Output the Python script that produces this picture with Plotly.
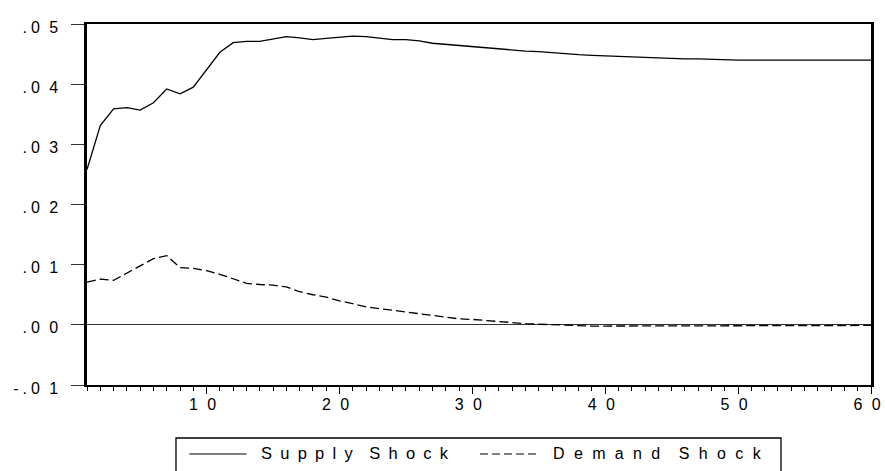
import plotly.graph_objects as go

# ---------------- data ----------------
periods = list(range(1, 61))

supply_shock = [
    0.0258, 0.0331, 0.0359, 0.0361, 0.0357, 0.0369, 0.0392, 0.0384, 0.0395, 0.0424,
    0.0453, 0.0469, 0.0471, 0.0471, 0.0475, 0.0479, 0.0477, 0.0474, 0.0476, 0.0478,
    0.0480, 0.0479, 0.0476, 0.0474, 0.0474, 0.0472, 0.0468, 0.0466, 0.0464, 0.0462,
    0.0461, 0.0458, 0.0456, 0.0455, 0.0454, 0.0452, 0.0451, 0.0449, 0.0448, 0.0447,
    0.0446, 0.0445, 0.0445, 0.0444, 0.0443, 0.0442, 0.0442, 0.0441, 0.0440, 0.0440,
    0.0440, 0.0440, 0.0440, 0.0440, 0.0440, 0.0440, 0.0440, 0.0440, 0.0440, 0.0440,
]

demand_shock = [
    0.0071, 0.0076, 0.0074, 0.0086, 0.0098, 0.0110, 0.0115, 0.0095, 0.0094, 0.0090,
    0.0084, 0.0076, 0.0069, 0.0067, 0.0066, 0.0063, 0.0055, 0.0050, 0.0046, 0.0040,
    0.0035, 0.0030, 0.0027, 0.0024, 0.0022, 0.0018, 0.0015, 0.0013, 0.0010, 0.0009,
    0.0007, 0.0005, 0.0003, 0.0002, 0.0001, 0.0000, -0.0001, -0.0002, -0.0002, -0.0002,
    -0.0002, -0.0002, -0.0002, -0.0002, -0.0002, -0.0002, -0.0002, -0.0002, -0.0002, -0.0002,
    -0.0002, -0.0002, -0.0002, -0.0002, -0.0002, -0.0002, -0.0001, -0.0001, -0.0001, -0.0001,
]

y_tick_values = [-0.01, 0.00, 0.01, 0.02, 0.03, 0.04, 0.05]
y_tick_labels = ["-.01", ".00", ".01", ".02", ".03", ".04", ".05"]
x_tick_values = [10, 20, 30, 40, 50, 60]
x_tick_labels = ["10", "20", "30", "40", "50", "60"]
series_names = ["Supply Shock", "Demand Shock"]

# ---------------- text spacing helpers (EViews-like letter spacing) ----------------
EN = "\u2002"
HAIR = "\u200a"
FOUR = "\u2005"


def spaced_number(s):
    out = ""
    for i, ch in enumerate(s):
        out += ch
        if i < len(s) - 1:
            nxt = s[i + 1]
            if ch in "-." or nxt == ".":
                out += FOUR
            else:
                out += EN + HAIR
    return out


def spaced_words(s, gap):
    return (gap + gap).join(gap.join(list(w)) for w in s.split(" "))


FONT = "Liberation Sans, Arial, Helvetica, sans-serif"

fig = go.Figure()
fig.add_trace(go.Scatter(
    x=periods, y=supply_shock, mode="lines", name=series_names[0],
    line=dict(color="black", width=1.3), showlegend=False,
))
fig.add_trace(go.Scatter(
    x=periods, y=demand_shock, mode="lines", name=series_names[1],
    line=dict(color="black", width=1.3, dash="9px,4px"), showlegend=False,
))

fig.update_layout(
    width=885, height=471,
    margin=dict(l=87, r=14, t=24, b=86, autoexpand=False),
    paper_bgcolor="white", plot_bgcolor="white",
    font=dict(family=FONT, size=16, color="black"),
    showlegend=False,
)

fig.update_xaxes(
    range=[1, 60], automargin=False,
    tickmode="array", tickvals=x_tick_values,
    ticktext=[spaced_number(t) for t in x_tick_labels],
    ticklabeloverflow="allow", ticklabelshift=-4, ticklabelstandoff=-3,
    ticks="outside", ticklen=7, tickwidth=1, tickcolor="black",
    minor=dict(dtick=1, tick0=1, ticks="outside", ticklen=4, tickwidth=1, tickcolor="black"),
    showline=True, linecolor="black", linewidth=1.5, mirror=True,
    showgrid=False, zeroline=False,
    tickfont=dict(family=FONT, size=16, color="black"),
)

fig.update_yaxes(
    range=[-0.01, 0.05], automargin=False,
    tickmode="array", tickvals=y_tick_values,
    ticktext=[spaced_number(t) for t in y_tick_labels],
    ticklabeloverflow="allow", ticklabelshift=3,
    ticks="outside", ticklen=13, tickwidth=1.2, tickcolor="#333",
    ticklabelstandoff=10,
    showline=True, linecolor="black", linewidth=2.5, mirror=True,
    showgrid=False,
    zeroline=True, zerolinecolor="#333", zerolinewidth=1,
    tickfont=dict(family=FONT, size=16, color="black"),
)

# ---------------- manual legend box (below the plot) ----------------
fig.add_shape(type="rect", xref="paper", yref="paper",
              x0=0.1135, x1=0.8852, y0=-0.1468, y1=-0.243,
              line=dict(color="black", width=1.3), fillcolor="rgba(0,0,0,0)")
fig.add_shape(type="line", xref="paper", yref="paper",
              x0=0.1305, x1=0.2036, y0=-0.1911, y1=-0.1911,
              line=dict(color="black", width=1))
fig.add_shape(type="line", xref="paper", yref="paper",
              x0=0.5013, x1=0.5753, y0=-0.1911, y1=-0.1911,
              line=dict(color="black", width=1, dash="8px,4px"))
fig.add_annotation(xref="paper", yref="paper", x=0.2195, y=-0.1884,
                   xanchor="left", yanchor="middle", showarrow=False,
                   text=spaced_words(series_names[0], EN),
                   font=dict(family=FONT, size=16.5, color="black"))
fig.add_annotation(xref="paper", yref="paper", x=0.5915, y=-0.1884,
                   xanchor="left", yanchor="middle", showarrow=False,
                   text=spaced_words(series_names[1], EN + HAIR),
                   font=dict(family=FONT, size=16, color="black"))

fig.write_html(
    "out.html",
    config={"displayModeBar": False},
    post_script="document.body.style.margin='0px';document.body.style.overflow='hidden';",
)
